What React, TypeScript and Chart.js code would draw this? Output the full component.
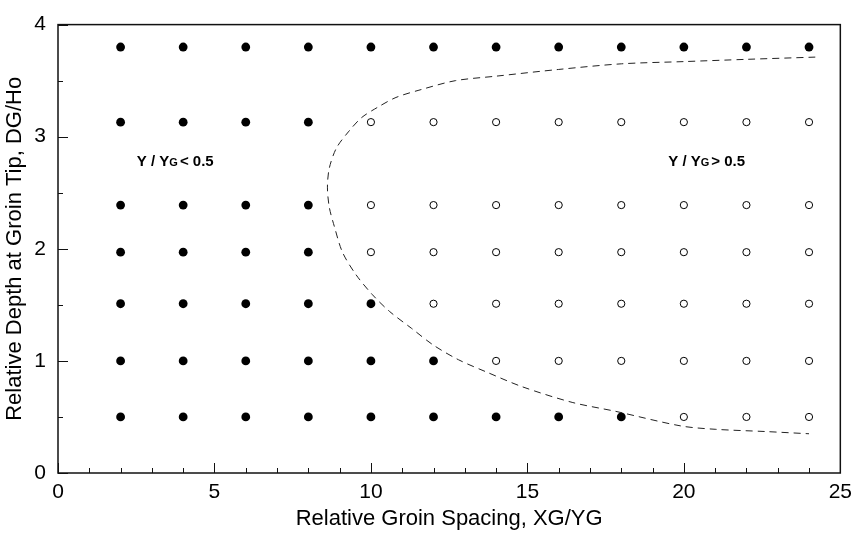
import React, { useEffect, useRef } from "react";
import { Chart, registerables } from "chart.js";

Chart.register(...registerables);

// Grid of experiment points
const xSpacing = [2, 4, 6, 8, 10, 12, 14, 16, 18, 20, 22, 24];
const rowDepth = [3.8, 3.13, 2.39, 1.97, 1.51, 1.0, 0.5];
// number of filled (Y/YG < 0.5) points in each row, counted from the left
const filledCount = [12, 4, 4, 4, 5, 6, 9];

// dashed boundary curve
const curveX = [24.2, 22, 20, 18, 16, 14, 12.7, 11.6, 10.8, 10.2, 9.7, 9.3, 8.9, 8.67, 8.61, 8.67, 8.83, 9.09, 9.52, 10.05, 10.6, 11.3, 12.0, 12.8, 13.7, 14.83, 16.43, 17.82, 19.9, 21.0, 22.6, 24.0];
const curveY = [3.71, 3.69, 3.67, 3.65, 3.6, 3.54, 3.5, 3.42, 3.35, 3.26, 3.17, 3.05, 2.9, 2.72, 2.55, 2.37, 2.2, 1.97, 1.77, 1.59, 1.44, 1.29, 1.14, 1.01, 0.9, 0.77, 0.63, 0.55, 0.42, 0.39, 0.37, 0.35];

const xTitle = "Relative Groin Spacing, XG/YG";
const yTitle = "Relative Depth at Groin Tip, DG/Ho";
const leftLabel = { x: 2.52, y: 2.79, parts: ["Y / Y", "G", "< 0.5"] };
const rightLabel = { x: 19.5, y: 2.79, parts: ["Y / Y", "G", "> 0.5"] };

const FONT = "'Liberation Sans', Arial, sans-serif";

export default function App() {
  const ref = useRef<HTMLCanvasElement | null>(null);

  useEffect(() => {
    if (!ref.current) return;
    const filled: { x: number; y: number }[] = [];
    const open: { x: number; y: number }[] = [];
    rowDepth.forEach((y, r) => {
      xSpacing.forEach((x, i) => {
        if (i < filledCount[r]) filled.push({ x, y });
        else open.push({ x, y });
      });
    });
    const curve = curveX.map((x, i) => ({ x, y: curveY[i] }));

    const framePlugin = {
      id: "frameTicks",
      afterDatasetsDraw(chart: any) {
        const { ctx, chartArea: a, scales } = chart;
        const xs = scales.x;
        const ys = scales.y;
        ctx.save();
        ctx.strokeStyle = "#111";
        ctx.lineWidth = 1.5;
        ctx.strokeRect(a.left, a.top, a.right - a.left, a.bottom - a.top);
        ctx.lineWidth = 1;
        ctx.beginPath();
        for (let v = 0; v <= 25; v += 1) {
          const px = Math.round(xs.getPixelForValue(v)) + 0.5;
          const len = v % 5 === 0 ? 10 : 5;
          ctx.moveTo(px, a.bottom);
          ctx.lineTo(px, a.bottom - len);
        }
        for (let v = 0; v <= 4; v += 0.5) {
          const py = Math.round(ys.getPixelForValue(v)) + 0.5;
          const len = v % 1 === 0 ? 10 : 5;
          ctx.moveTo(a.left, py);
          ctx.lineTo(a.left + len, py);
        }
        ctx.stroke();

        const drawLabel = (lab: { x: number; y: number; parts: string[] }) => {
          let px = xs.getPixelForValue(lab.x);
          const py = ys.getPixelForValue(lab.y);
          ctx.fillStyle = "#000";
          ctx.textBaseline = "alphabetic";
          ctx.textAlign = "left";
          lab.parts.forEach((p, i) => {
            ctx.font = i === 1 ? `bold 11px ${FONT}` : `bold 15px ${FONT}`;
            ctx.fillText(p, px, py + 5.5);
            px += ctx.measureText(p).width + (i === 1 ? 2 : 0);
          });
        };
        drawLabel(leftLabel);
        drawLabel(rightLabel);
        ctx.restore();
      },
    };

    const chart = new Chart(ref.current, {
      type: "scatter",
      data: {
        datasets: [
          {
            data: curve,
            showLine: true,
            pointRadius: 0,
            borderColor: "#222",
            borderWidth: 1,
            borderDash: [7, 5],
            tension: 0.3,
            fill: false,
          } as any,
          {
            data: filled,
            pointRadius: 4.4,
            backgroundColor: "#000",
            borderColor: "#000",
            borderWidth: 0,
          },
          {
            data: open,
            pointRadius: 3.6,
            backgroundColor: "#fff",
            borderColor: "#000",
            borderWidth: 1,
          },
        ],
      },
      options: {
        responsive: false,
        animation: false,
        devicePixelRatio: 1,
        layout: { padding: { top: 13, right: 17, left: 0, bottom: 0 } },
        plugins: { legend: { display: false }, tooltip: { enabled: false } },
        scales: {
          x: {
            type: "linear",
            min: 0,
            max: 25,
            grid: { display: false, drawTicks: false, tickLength: 0 },
            border: { display: false },
            ticks: { stepSize: 5, padding: 7, color: "#000", font: { family: FONT, size: 21 } },
            title: { display: true, text: xTitle, color: "#000", padding: { top: 0, bottom: 2 }, font: { family: FONT, size: 22 } },
            afterFit: (s: any) => { s.height = 61; },
          },
          y: {
            type: "linear",
            min: 0,
            max: 4,
            grid: { display: false, drawTicks: false, tickLength: 0 },
            border: { display: false },
            ticks: { stepSize: 1, padding: 12, color: "#000", font: { family: FONT, size: 21 } },
            title: { display: true, text: yTitle, color: "#000", padding: { top: 2, bottom: 0 }, font: { family: FONT, size: 22 } },
            afterFit: (s: any) => { s.width = 58; },
          },
        },
      },
      plugins: [framePlugin],
    });
    return () => chart.destroy();
  }, []);

  return (
    <div style={{ position: "fixed", left: 0, top: 0, width: 859, height: 534, background: "#fff" }}>
      <canvas ref={ref} width={859} height={534} />
    </div>
  );
}
